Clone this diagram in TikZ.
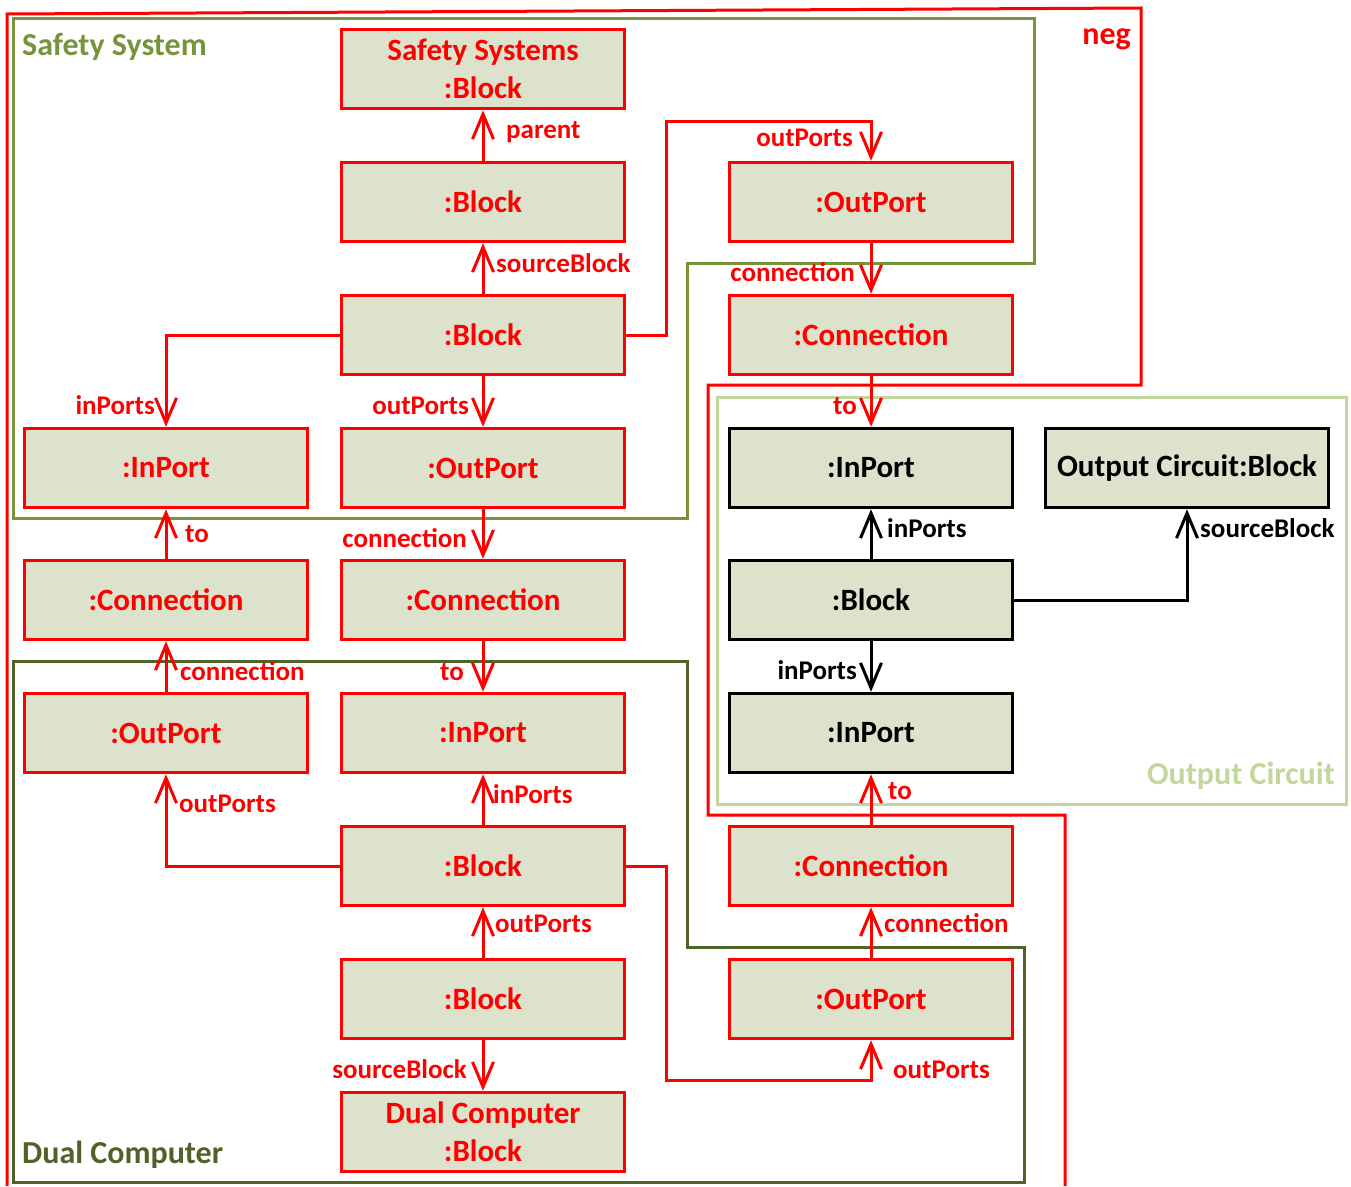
\documentclass[tikz,border=0pt]{standalone}
\usepackage{fontspec}
\setmainfont{Carlito}
\usetikzlibrary{arrows.meta}

\definecolor{relred}{RGB}{255,0,0}
\definecolor{objfill}{RGB}{221,226,204}
\definecolor{safegreen}{RGB}{119,147,60}
\definecolor{dualgreen}{RGB}{79,98,40}
\definecolor{outgreen}{RGB}{195,214,155}

\begin{document}
\begin{tikzpicture}[x=1pt,y=-1pt,
  obj/.style={draw=relred, line width=3.5pt, fill=objfill, minimum width=283pt,
    minimum height=79pt, inner sep=0pt, align=center, text=relred,
    font=\fontsize{31}{38}\selectfont\bfseries},
  objk/.style={obj, draw=black, text=black},
  barb/.style={-{Straight Barb[length=25pt,width=21pt,line width=3pt]}},
  rel/.style={draw=relred, line width=3pt, barb},
  relk/.style={rel, draw=black},
  lbl/.style={inner sep=0pt, text=relred, font=\fontsize{27}{30}\selectfont\bfseries},
  lblk/.style={lbl, text=black},
  frame/.style={line width=3pt, line join=miter},
  framelbl/.style={inner sep=0pt, font=\fontsize{32}{36}\selectfont\bfseries}
]
\useasboundingbox (0,0) rectangle (1351,1186);

% ---- fragment frames ----
\draw[frame, draw=safegreen] (13,18) -- (1034,18) -- (1034,263) -- (687,263)
  -- (687,518) -- (13,518) -- cycle;
\node[framelbl, text=safegreen, anchor=base west] (lSafe) at (22,55) {Safety System};

\draw[frame, draw=dualgreen] (13,661) -- (687,661) -- (687,947) -- (1024,947)
  -- (1024,1182) -- (13,1182) -- cycle;
\node[framelbl, text=dualgreen, anchor=base west] (lDual) at (22,1163) {Dual Computer};

\draw[frame, draw=outgreen] (717,397) rectangle (1346,804);
\node[framelbl, text=outgreen, anchor=base east] (lOut) at (1335,784) {Output Circuit};

\draw[frame, draw=relred] (7,1186) -- (7,14) -- (1141,8) -- (1141,385) -- (708,385)
  -- (708,815) -- (1065,815) -- (1065,1186);
\node[framelbl, text=relred, anchor=base east] (lNeg) at (1131,44) {neg};

% ---- objects ----
\node[obj] (SS)  at (483,69)   {Safety Systems\\:Block};
\node[obj] (B1)  at (483,202)  {:Block};
\node[obj] (B2)  at (483,335)  {:Block};
\node[obj] (IP1) at (166,468)  {:InPort};
\node[obj] (OP1) at (483,468)  {:OutPort};
\node[obj] (OP2) at (871,202)  {:OutPort};
\node[obj] (C1)  at (871,335)  {:Connection};
\node[obj] (C2)  at (166,600)  {:Connection};
\node[obj] (C3)  at (483,600)  {:Connection};
\node[obj] (OP3) at (166,733)  {:OutPort};
\node[obj] (IP2) at (483,733)  {:InPort};
\node[obj] (B3)  at (483,866)  {:Block};
\node[obj] (B4)  at (483,999)  {:Block};
\node[obj] (DC)  at (483,1132) {Dual Computer\\:Block};
\node[obj] (C4)  at (871,866)  {:Connection};
\node[obj] (OP4) at (871,999)  {:OutPort};

\node[objk] (IPa) at (871,468)  {:InPort};
\node[objk] (OCB) at (1187,468) {Output Circuit:Block};
\node[objk] (Bk)  at (871,600)  {:Block};
\node[objk] (IPb) at (871,733)  {:InPort};

% ---- bend points ----
\coordinate (k1) at (666,121);
\coordinate (k2) at (666,1080);

% ---- links ----
\draw[rel] (B1.north) -- (SS.south);
\draw[rel] (B2.north) -- (B1.south);
\draw[rel] (B2.west) -| (IP1.north);
\draw[rel] (B2.south) -- (OP1.north);
\draw[rel] (B2.east) -| (k1) -| (OP2.north);
\draw[rel] (OP2.south) -- (C1.north);
\draw[rel] (C1.south) -- (IPa.north);
\draw[rel] (C2.north) -- (IP1.south);
\draw[rel] (OP1.south) -- (C3.north);
\draw[rel] (OP3.north) -- (C2.south);
\draw[rel] (C3.south) -- (IP2.north);
\draw[rel] (B3.west) -| (OP3.south);
\draw[rel] (B3.north) -- (IP2.south);
\draw[rel] (B4.north) -- (B3.south);
\draw[rel] (B4.south) -- (DC.north);
\draw[rel] (B3.east) -| (k2) -| (OP4.south);
\draw[rel] (OP4.north) -- (C4.south);
\draw[rel] (C4.north) -- (IPb.south);

\draw[relk] (Bk.north) -- (IPa.south);
\draw[relk] (Bk.east) -| (OCB.south);
\draw[relk] (Bk.south) -- (IPb.north);

% ---- role names ----
\node[lbl, anchor=base west] (r1)  at (506,138)  {parent};
\node[lbl, anchor=base west] (r2)  at (496,272)  {sourceBlock};
\node[lbl, anchor=base east] (r3)  at (155,414)  {inPorts};
\node[lbl, anchor=base east] (r4)  at (469,414)  {outPorts};
\node[lbl, anchor=base east] (r5)  at (853,146)  {outPorts};
\node[lbl, anchor=base east] (r6)  at (855,281)  {connection};
\node[lbl, anchor=base east] (r7)  at (857,414)  {to};
\node[lbl, anchor=base west] (r8)  at (185,542)  {to};
\node[lbl, anchor=base east] (r9)  at (467,547)  {connection};
\node[lbl, anchor=base west] (r10) at (180,680)  {connection};
\node[lbl, anchor=base east] (r11) at (464,680)  {to};
\node[lbl, anchor=base west] (r12) at (179,812)  {outPorts};
\node[lbl, anchor=base west] (r13) at (493,803)  {inPorts};
\node[lbl, anchor=base west] (r14) at (495,932)  {outPorts};
\node[lbl, anchor=base east] (r15) at (467,1078) {sourceBlock};
\node[lbl, anchor=base west] (r16) at (893,1078) {outPorts};
\node[lbl, anchor=base west] (r17) at (884,932)  {connection};
\node[lbl, anchor=base west] (r18) at (888,799)  {to};
\node[lblk, anchor=base west] (r19) at (887,537) {inPorts};
\node[lblk, anchor=base west] (r20) at (1200,537) {sourceBlock};
\node[lblk, anchor=base east] (r21) at (857,679) {inPorts};
\end{tikzpicture}
\end{document}
